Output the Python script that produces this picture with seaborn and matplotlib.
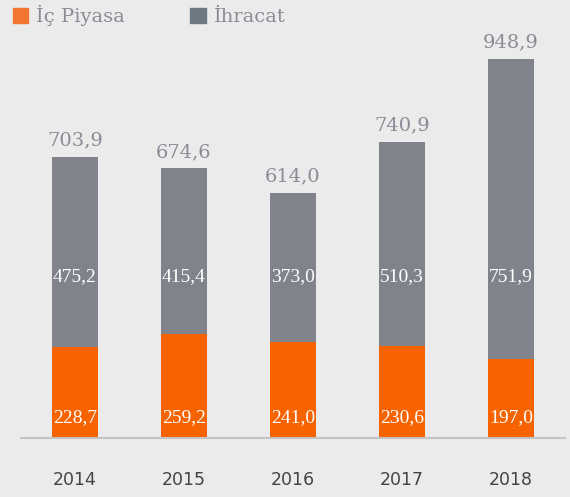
import pandas as pd
import seaborn as sns
import matplotlib.pyplot as plt
from matplotlib.patches import Patch

# Data
years = ["2014", "2015", "2016", "2017", "2018"]
ic_piyasa = [228.7, 259.2, 241.0, 230.6, 197.0]
ihracat = [475.2, 415.4, 373.0, 510.3, 751.9]
totals = [703.9, 674.6, 614.0, 740.9, 948.9]

def tr(v):
    return f"{v:.1f}".replace(".", ",")

df = pd.DataFrame({"Yıl": years, "İç Piyasa": ic_piyasa, "İhracat": ihracat})
df["Toplam"] = df["İç Piyasa"] + df["İhracat"]

bg = "#ebebeb"
orange = "#f76300"
grey = "#80838c"

sns.set_style("white")
fig = plt.figure(figsize=(5.7, 4.97), dpi=100, facecolor=bg)
ax = fig.add_axes([0.036, 0.1187, 0.956, 0.804])
ax.set_facecolor(bg)

# stacked: grey total first, orange bottom on top of it
sns.barplot(data=df, x="Yıl", y="Toplam", color=grey, width=0.42, saturation=1,
            linewidth=0, ax=ax)
sns.barplot(data=df, x="Yıl", y="İç Piyasa", color=orange, width=0.42, saturation=1,
            linewidth=0, ax=ax)

ax.set_xlim(-0.5, 4.5)
ax.set_ylim(0, 1000)

for i in range(len(years)):
    ax.text(i, totals[i] + 18, tr(totals[i]), ha="center", va="bottom",
            fontsize=14, color="#8a8c96", family="DejaVu Serif")
    ax.text(i, 403, tr(ihracat[i]), ha="center", va="center",
            fontsize=14, color="white", family="Liberation Serif")
    ax.text(i, 50, tr(ic_piyasa[i]), ha="center", va="center",
            fontsize=14, color="white", family="Liberation Serif")

for s in ["left", "right", "top"]:
    ax.spines[s].set_visible(False)
ax.spines["bottom"].set_color("#c4c4c4")
ax.spines["bottom"].set_linewidth(1.5)
ax.set_yticks([])
ax.set_xlabel("")
ax.set_ylabel("")
ax.tick_params(axis="x", length=0, pad=24, labelsize=12.5, labelcolor="#444444")

handles = [Patch(color="#f47530", label="İç Piyasa"), Patch(color="#6d7a84", label="İhracat")]
leg = fig.legend(handles=handles, loc="upper left", bbox_to_anchor=(-0.008, 1.025), ncol=2,
                 frameon=False, handlelength=0.8, handleheight=0.8, handletextpad=0.4,
                 columnspacing=3.35, prop={"family": "DejaVu Serif", "size": 14})
for t in leg.get_texts():
    t.set_color("#8a8c96")

fig.savefig("out.png", dpi=100, facecolor=bg)
